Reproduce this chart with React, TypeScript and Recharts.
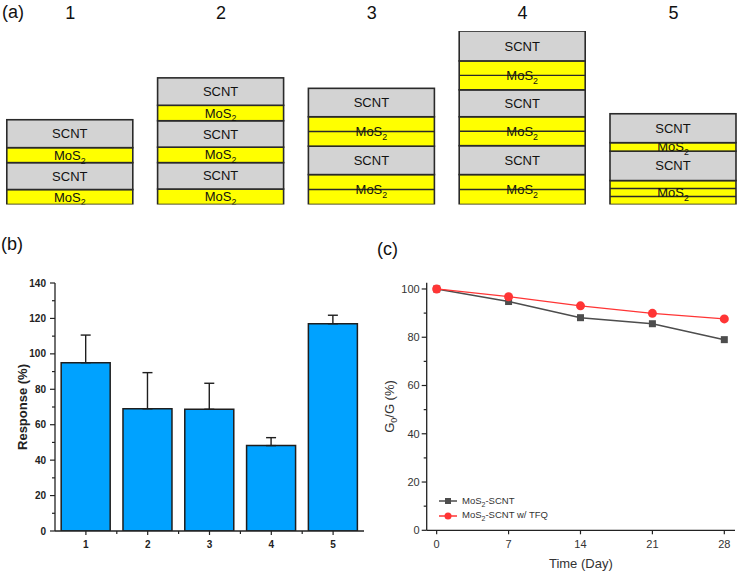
import React from 'react'
import { BarChart, Bar, XAxis, YAxis, ErrorBar, LineChart, Line, Legend } from 'recharts'

const FONT = "'Liberation Sans', Arial, Helvetica, sans-serif"
const INK = '#222'

// (a) film stacks, layers listed bottom to top; parts = number of MoS2 sub-films
type Layer = { kind: 'SCNT' | 'MoS2'; thick: number; parts?: number }
const stackNames = [1, 2, 3, 4, 5]
const stack1Layers: Layer[] = [
  { kind: 'MoS2', thick: 15 },
  { kind: 'SCNT', thick: 27 },
  { kind: 'MoS2', thick: 15 },
  { kind: 'SCNT', thick: 28 },
]
const stack2Layers: Layer[] = [
  { kind: 'MoS2', thick: 15.5 },
  { kind: 'SCNT', thick: 26.5 },
  { kind: 'MoS2', thick: 15.5 },
  { kind: 'SCNT', thick: 26.5 },
  { kind: 'MoS2', thick: 15.5 },
  { kind: 'SCNT', thick: 27.5 },
]
const stack3Layers: Layer[] = [
  { kind: 'MoS2', thick: 30, parts: 2 },
  { kind: 'SCNT', thick: 28.5 },
  { kind: 'MoS2', thick: 29.5, parts: 2 },
  { kind: 'SCNT', thick: 28.5 },
]
const stack4Layers: Layer[] = [
  { kind: 'MoS2', thick: 30, parts: 2 },
  { kind: 'SCNT', thick: 29 },
  { kind: 'MoS2', thick: 29, parts: 2 },
  { kind: 'SCNT', thick: 27 },
  { kind: 'MoS2', thick: 29, parts: 2 },
  { kind: 'SCNT', thick: 30 },
]
const stack5Layers: Layer[] = [
  { kind: 'MoS2', thick: 24, parts: 3 },
  { kind: 'SCNT', thick: 29.5 },
  { kind: 'MoS2', thick: 8.5 },
  { kind: 'SCNT', thick: 29 },
]

// (b) response of each stack
const sampleIds = ['1', '2', '3', '4', '5']
const responseMean = [95, 69, 68.7, 48.2, 117]
const responseErr = [15.6, 20.4, 14.7, 4.5, 4.8]
const responseTicks = [0, 10, 20, 30, 40, 50, 60, 70, 80, 90, 100, 110, 120, 130, 140]

// (c) conductance retention over time
const days = [0, 7, 14, 21, 28]
const plainRetention = [100, 94.8, 88.1, 85.6, 79]
const tfqRetention = [100, 96.8, 93, 89.9, 87.6]
const retentionTicks = [0, 10, 20, 30, 40, 50, 60, 70, 80, 90, 100]

const stackLayers = [stack1Layers, stack2Layers, stack3Layers, stack4Layers, stack5Layers]
const maxLayers = Math.max(...stackLayers.map((s) => s.length))
const stackRows = stackNames.map((n, i) => {
  const row: Record<string, number> = { stack: n }
  stackLayers[i].forEach((l, j) => {
    row['l' + j] = l.thick
  })
  return row
})

const responseRows = sampleIds.map((s, i) => ({
  sample: s,
  mean: responseMean[i],
  err: [0, responseErr[i]],
}))

const retentionRows = days.map((d, i) => ({
  day: d,
  plain: plainRetention[i],
  tfq: tfqRetention[i],
}))

const MoS2 = ({ size }: { size: number }) => (
  <>
    MoS<tspan fontSize={size * 0.68} dy={size * 0.3}>2</tspan>
  </>
)

const layerShape = (j: number) => (p: any) => {
  const layers = stackLayers[p.payload.stack - 1]
  const layer = layers && layers[j]
  if (!layer || !(p.height > 0)) return <g />
  const { x, y, width: w, height: h } = p
  const mo = layer.kind === 'MoS2'
  const parts = layer.parts || 1
  return (
    <g>
      <rect x={x} y={y} width={w} height={h} fill={mo ? '#ffff00' : '#d3d3d3'} stroke="#2a2a2a" strokeWidth={1.6} />
      {Array.from({ length: parts - 1 }, (_, k) => (
        <line key={k} x1={x} x2={x + w} y1={y + (h * (k + 1)) / parts} y2={y + (h * (k + 1)) / parts} stroke="#2a2a2a" strokeWidth={1.4} />
      ))}
      <text x={x + w / 2} y={y + h / 2} dy="0.35em" textAnchor="middle" fontSize={13} fill="#111" fontFamily={FONT}>
        {mo ? <MoS2 size={13} /> : 'SCNT'}
      </text>
    </g>
  )
}

const StackNumber = (p: any) => (
  <text x={p.x} y={19} textAnchor="middle" fontSize={18} fill="#111" fontFamily={FONT}>
    {p.payload.value}
  </text>
)

const PLOT_B_WIDTH = 309

const ResponseYTick = (p: any) => {
  const v = p.payload.value
  const major = v % 20 === 0
  return (
    <g>
      <line x1={p.x} x2={p.x - (major ? 5 : 3)} y1={p.y} y2={p.y} stroke={INK} strokeWidth={1.2} />
      {major && (
        <text x={p.x - 9} y={p.y} dy="0.35em" textAnchor="end" fontSize={10} fontWeight="bold" fill={INK} fontFamily={FONT}>
          {v}
        </text>
      )}
    </g>
  )
}

const ResponseXTick = (p: any) => {
  const half = PLOT_B_WIDTH / sampleIds.length / 2
  return (
    <g>
      <line x1={p.x} x2={p.x} y1={p.y} y2={p.y + 4} stroke={INK} strokeWidth={1.2} />
      {p.index > 0 && <line x1={p.x - half} x2={p.x - half} y1={p.y} y2={p.y + 3} stroke={INK} strokeWidth={1.2} />}
      <text x={p.x} y={p.y + 17} textAnchor="middle" fontSize={10} fontWeight="bold" fill={INK} fontFamily={FONT}>
        {p.payload.value}
      </text>
    </g>
  )
}

const RetentionYTick = (p: any) => {
  const v = p.payload.value
  const major = v % 20 === 0
  return (
    <g>
      <line x1={p.x} x2={p.x - (major ? 5 : 3)} y1={p.y} y2={p.y} stroke={INK} strokeWidth={1.2} />
      {major && (
        <text x={p.x - 7} y={p.y} dy="0.35em" textAnchor="end" fontSize={11} fill="#333" fontFamily={FONT}>
          {v}
        </text>
      )}
    </g>
  )
}

const RetentionXTick = (p: any) => (
  <g>
    <line x1={p.x} x2={p.x} y1={p.y} y2={p.y + 4} stroke={INK} strokeWidth={1.2} />
    <text x={p.x} y={p.y + 18} textAnchor="middle" fontSize={11} fill="#333" fontFamily={FONT}>
      {p.payload.value}
    </text>
  </g>
)

const squareDot = (p: any) => (
  <rect key={'sq' + p.index} x={p.cx - 3.5} y={p.cy - 3.5} width={7} height={7} fill="#4d4d4d" />
)

const RetentionLegend = (props: any) => (
  <div style={{ fontFamily: FONT, fontSize: 9.5, color: '#333' }}>
    {(props.payload || []).map((e: any) => (
      <div key={e.value} style={{ display: 'flex', alignItems: 'center', height: 14.5 }}>
        <svg width={20} height={10} style={{ marginRight: 4 }}>
          <line x1={1} x2={19} y1={5} y2={5} stroke={e.color} strokeWidth={1.5} />
          {e.dataKey === 'plain' ? (
            <rect x={7} y={2} width={6} height={6} fill={e.color} />
          ) : (
            <circle cx={10} cy={5} r={3.5} fill={e.color} />
          )}
        </svg>
        <span>
          MoS<sub style={{ fontSize: 7 }}>2</sub>
          {String(e.value).replace('MoS2', '')}
        </span>
      </div>
    ))}
  </div>
)

const axisLine = { stroke: INK, strokeWidth: 1.3 }

const panelLabel = (left: number, top: number): React.CSSProperties => ({
  position: 'absolute',
  left,
  top,
  fontSize: 18,
  fontFamily: FONT,
  color: '#111',
  lineHeight: '20px',
})

export default function App() {
  return (
    <div style={{ position: 'absolute', left: 0, top: 0, width: 741, height: 574, background: '#fff', fontFamily: FONT }}>
      <div style={panelLabel(2, 2)}>(a)</div>
      <div style={panelLabel(1, 234)}>(b)</div>
      <div style={panelLabel(377, 239)}>(c)</div>

      <div style={{ position: 'absolute', left: 0, top: 0 }}>
        <BarChart width={741} height={215} data={stackRows} margin={{ top: 0, right: 0, bottom: 10.5, left: 0 }}>
          <XAxis
            dataKey="stack"
            type="number"
            orientation="top"
            height={31}
            domain={[0.5345, 5.4483]}
            allowDataOverflow
            ticks={stackNames}
            axisLine={false}
            tickLine={false}
            tick={StackNumber}
          />
          <YAxis hide domain={[0, 174]} allowDataOverflow />
          {Array.from({ length: maxLayers }, (_, j) => (
            <Bar key={j} dataKey={'l' + j} stackId="layers" barSize={126} shape={layerShape(j)} isAnimationActive={false} />
          ))}
        </BarChart>
      </div>

      <div style={{ position: 'absolute', left: 0, top: 225 }}>
        <BarChart width={370} height={349} data={responseRows} margin={{ top: 58, right: 6, bottom: 0, left: 0 }} barCategoryGap="10%">
          <XAxis dataKey="sample" height={43} interval={0} tickSize={0} tickMargin={0} tickLine={false} axisLine={axisLine} tick={ResponseXTick} />
          <XAxis xAxisId="top" orientation="top" type="number" domain={[0, 1]} height={0} tick={false} tickLine={false} axisLine={axisLine} />
          <YAxis
            width={55}
            domain={[0, 140]}
            allowDataOverflow
            ticks={responseTicks}
            interval={0}
            tickSize={0}
            tickMargin={0}
            tickLine={false}
            axisLine={axisLine}
            tick={ResponseYTick}
            label={{
              content: (lp: any) => {
                const cy = lp.viewBox.y + lp.viewBox.height / 2
                return (
                  <text x={22} y={cy} transform={`rotate(-90 22 ${cy})`} dy="0.35em" textAnchor="middle" fontSize={13} fontWeight="bold" fill={INK} fontFamily={FONT}>
                    Response (%)
                  </text>
                )
              },
            }}
          />
          <YAxis yAxisId="right" orientation="right" type="number" domain={[0, 1]} width={0} tick={false} tickLine={false} axisLine={axisLine} />
          <Bar dataKey="mean" fill="#00a2ff" stroke="#1e1e1e" strokeWidth={1.5} isAnimationActive={false}>
            <ErrorBar dataKey="err" width={5} stroke="#1e1e1e" strokeWidth={1.4} direction="y" />
          </Bar>
        </BarChart>
      </div>

      <div style={{ position: 'absolute', left: 370, top: 225 }}>
        <LineChart width={371} height={349} data={retentionRows} margin={{ top: 57.7, right: 6, bottom: 0, left: 0 }}>
          <XAxis
            dataKey="day"
            type="number"
            domain={[-0.97, 29.04]}
            allowDataOverflow
            ticks={days}
            interval={0}
            height={43.7}
            tickSize={0}
            tickMargin={0}
            tickLine={false}
            axisLine={axisLine}
            tick={RetentionXTick}
            label={{
              content: (lp: any) => (
                <text x={lp.viewBox.x + lp.viewBox.width / 2} y={343} textAnchor="middle" fontSize={13} fill="#333" fontFamily={FONT}>
                  Time (Day)
                </text>
              ),
            }}
          />
          <XAxis xAxisId="top" orientation="top" type="number" domain={[0, 1]} height={0} tick={false} tickLine={false} axisLine={axisLine} />
          <YAxis
            width={56.7}
            domain={[0, 102.6]}
            allowDataOverflow
            ticks={retentionTicks}
            interval={0}
            tickSize={0}
            tickMargin={0}
            tickLine={false}
            axisLine={axisLine}
            tick={RetentionYTick}
            label={{
              content: (lp: any) => {
                const cy = lp.viewBox.y + lp.viewBox.height / 2
                return (
                  <text x={19} y={cy} transform={`rotate(-90 19 ${cy})`} dy="0.35em" textAnchor="middle" fontSize={13} fill="#333" fontFamily={FONT}>
                    G<tspan fontSize={9} dy={3}>0</tspan>
                    <tspan dy={-3}>/G (%)</tspan>
                  </text>
                )
              },
            }}
          />
          <YAxis yAxisId="right" orientation="right" type="number" domain={[0, 1]} width={0} tick={false} tickLine={false} axisLine={axisLine} />
          <Legend
            layout="vertical"
            align="center"
            verticalAlign="middle"
            content={RetentionLegend}
            wrapperStyle={{ position: 'absolute', left: 68, top: 269, width: 'auto', height: 'auto' }}
          />
          <Line dataKey="plain" name="MoS2-SCNT" stroke="#4d4d4d" strokeWidth={1.5} dot={squareDot} isAnimationActive={false} />
          <Line
            dataKey="tfq"
            name="MoS2-SCNT w/ TFQ"
            stroke="#ff3535"
            strokeWidth={1.3}
            dot={{ r: 4.5, fill: '#ff3535', stroke: '#ff3535', strokeWidth: 0 }}
            isAnimationActive={false}
          />
        </LineChart>
      </div>
    </div>
  )
}
